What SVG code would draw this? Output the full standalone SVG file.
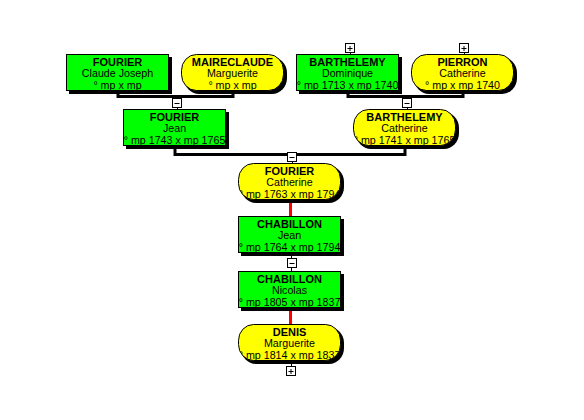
<svg xmlns="http://www.w3.org/2000/svg" width="584" height="420" viewBox="0 0 584 420">
<defs>
<style>
.bg{fill:#ffffff}
.shadow{fill:#000000}
.male{fill:#00ff00;stroke:#000000;stroke-width:1}
.female{fill:#ffff00;stroke:#000000;stroke-width:1}
text{font-family:"Liberation Sans",Arial,sans-serif;font-size:10.7px;fill:#000000;text-anchor:middle}
.t{font-weight:bold;font-size:11px}
.link{fill:none;stroke:#000000;stroke-width:3;stroke-linejoin:miter}
.thin{fill:none;stroke:#000000;stroke-width:1}
.red{fill:none;stroke:#ff0000;stroke-width:3}
.btn{fill:#ffffff;stroke:#000000;stroke-width:1}
.sym{fill:none;stroke:#000000;stroke-width:1}
</style>
<clipPath id="clipM" clipPathUnits="userSpaceOnUse"><rect x="1" y="1" width="101" height="35"/></clipPath>
<clipPath id="clipF" clipPathUnits="userSpaceOnUse"><rect x="1" y="1" width="101" height="35" rx="14" ry="15"/></clipPath>
<g id="boxMinus"><rect class="btn" x="0.5" y="0.5" width="9" height="9"/><path class="sym" d="M2.5 5.5H7.5"/></g>
<g id="boxPlus"><rect class="btn" x="0.5" y="0.5" width="9" height="9"/><path class="sym" d="M2.5 5.5H7.5M5 3V8"/></g>
</defs>
<rect class="bg" x="0" y="0" width="584" height="420"/>

<g id="connectors">
<path class="link" d="M118 91V96.5H233V91"/>
<path class="link" d="M348 91V96.5H463V91"/>
<path class="link" d="M175 146V154.5H405V146"/>
<path class="thin" d="M177.5 108V109M407.5 108V109M292.5 162V163"/>
<path class="red" d="M290.5 200V216"/>
<path class="thin" d="M291.5 253V271"/>
<path class="red" d="M290.5 308V324"/>
<path class="thin" d="M291.5 361V366"/>
<path class="thin" d="M350.5 53V55M464.5 53V55"/>
<use href="#boxMinus" x="172" y="98"/>
<use href="#boxMinus" x="402" y="98"/>
<use href="#boxMinus" x="287" y="152"/>
<use href="#boxMinus" x="287" y="258"/>
<use href="#boxPlus" x="286" y="366"/>
<use href="#boxPlus" x="345" y="43"/>
<use href="#boxPlus" x="459" y="43"/>
</g>

<g id="n1" transform="translate(66,54)">
<rect class="shadow" x="3" y="3" width="103" height="37"/>
<rect class="male" x="0.5" y="0.5" width="102" height="36"/>
<g clip-path="url(#clipM)"><text class="t" x="51.5" y="12">FOURIER</text><text x="51.5" y="23">Claude Joseph</text><text x="51.5" y="35">° mp x mp</text></g>
</g>
<g id="n2" transform="translate(181,54)">
<rect class="shadow" x="3" y="3" width="103" height="37" rx="15" ry="16"/>
<rect class="female" x="0.5" y="0.5" width="102" height="36" rx="15" ry="16"/>
<g clip-path="url(#clipF)"><text class="t" x="51.5" y="12">MAIRECLAUDE</text><text x="51.5" y="23">Marguerite</text><text x="51.5" y="35">° mp x mp</text></g>
</g>
<g id="n3" transform="translate(296,54)">
<rect class="shadow" x="3" y="3" width="103" height="37"/>
<rect class="male" x="0.5" y="0.5" width="102" height="36"/>
<g clip-path="url(#clipM)"><text class="t" x="51.5" y="12">BARTHELEMY</text><text x="51.5" y="23">Dominique</text><text x="51.5" y="35">° mp 1713 x mp 1740</text></g>
</g>
<g id="n4" transform="translate(411,54)">
<rect class="shadow" x="3" y="3" width="103" height="37" rx="15" ry="16"/>
<rect class="female" x="0.5" y="0.5" width="102" height="36" rx="15" ry="16"/>
<g clip-path="url(#clipF)"><text class="t" x="51.5" y="12">PIERRON</text><text x="51.5" y="23">Catherine</text><text x="51.5" y="35">° mp x mp 1740</text></g>
</g>
<g id="n5" transform="translate(123,109)">
<rect class="shadow" x="3" y="3" width="103" height="37"/>
<rect class="male" x="0.5" y="0.5" width="102" height="36"/>
<g clip-path="url(#clipM)"><text class="t" x="51.5" y="12">FOURIER</text><text x="51.5" y="23">Jean</text><text x="51.5" y="35">° mp 1743 x mp 1765</text></g>
</g>
<g id="n6" transform="translate(353,109)">
<rect class="shadow" x="3" y="3" width="103" height="37" rx="15" ry="16"/>
<rect class="female" x="0.5" y="0.5" width="102" height="36" rx="15" ry="16"/>
<g clip-path="url(#clipF)"><text class="t" x="51.5" y="12">BARTHELEMY</text><text x="51.5" y="23">Catherine</text><text x="51.5" y="35">° mp 1741 x mp 1765</text></g>
</g>
<g id="n7" transform="translate(238,163)">
<rect class="shadow" x="3" y="3" width="103" height="37" rx="15" ry="16"/>
<rect class="female" x="0.5" y="0.5" width="102" height="36" rx="15" ry="16"/>
<g clip-path="url(#clipF)"><text class="t" x="51.5" y="12">FOURIER</text><text x="51.5" y="23">Catherine</text><text x="51.5" y="35">° mp 1763 x mp 1794</text></g>
</g>
<g id="n8" transform="translate(238,216)">
<rect class="shadow" x="3" y="3" width="103" height="37"/>
<rect class="male" x="0.5" y="0.5" width="102" height="36"/>
<g clip-path="url(#clipM)"><text class="t" x="51.5" y="12">CHABILLON</text><text x="51.5" y="23">Jean</text><text x="51.5" y="35">° mp 1764 x mp 1794</text></g>
</g>
<g id="n9" transform="translate(238,271)">
<rect class="shadow" x="3" y="3" width="103" height="37"/>
<rect class="male" x="0.5" y="0.5" width="102" height="36"/>
<g clip-path="url(#clipM)"><text class="t" x="51.5" y="12">CHABILLON</text><text x="51.5" y="23">Nicolas</text><text x="51.5" y="35">° mp 1805 x mp 1837</text></g>
</g>
<g id="n10" transform="translate(238,324)">
<rect class="shadow" x="3" y="3" width="103" height="37" rx="15" ry="16"/>
<rect class="female" x="0.5" y="0.5" width="102" height="36" rx="15" ry="16"/>
<g clip-path="url(#clipF)"><text class="t" x="51.5" y="12">DENIS</text><text x="51.5" y="23">Marguerite</text><text x="51.5" y="35">° mp 1814 x mp 1837</text></g>
</g>
</svg>
